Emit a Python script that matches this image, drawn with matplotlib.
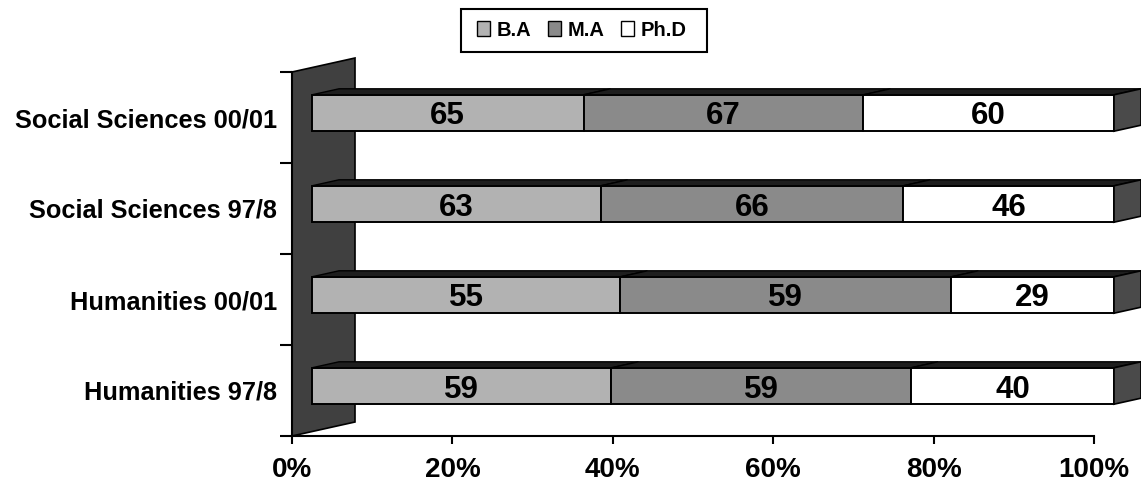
import matplotlib
matplotlib.use("Agg")
import matplotlib.pyplot as plt
from matplotlib.patches import Polygon, Patch, Rectangle
from matplotlib.transforms import ScaledTranslation
import numpy as np

plt.rcParams['font.family'] = ['Liberation Sans', 'DejaVu Sans']
plt.rcParams['font.weight'] = 'bold'

# bottom row first
categories = ["Humanities 97/8", "Humanities 00/01",
              "Social Sciences 97/8", "Social Sciences 00/01"]
degrees = ["B.A", "M.A", "Ph.D"]
ba = [59, 55, 63, 65]
ma = [59, 59, 66, 67]
phd = [40, 29, 46, 60]
xticks = [0, 20, 40, 60, 80, 100]

face_colors = ["#b2b2b2", "#8a8a8a", "#ffffff"]
top_color = "#1e1e1e"
side_color = "#4a4a4a"
wall_color = "#404040"

W, H = 1141, 482
fig = plt.figure(figsize=(W / 100, H / 100), dpi=100)
ax = fig.add_axes([292 / W, 46 / H, 802 / W, 364 / H])
ax.set_xlim(0, 100)
ax.set_ylim(-0.5, 3.5)

# pixels per data unit, used for the 3-D depth of bars and wall
ax_w = fig.get_figwidth() * fig.dpi * ax.get_position().width
ax_h = fig.get_figheight() * fig.dpi * ax.get_position().height
px_x = ax_w / 100.0
px_y = ax_h / 4.0

# bars sit a little behind the front plane
front = ax.transData + ScaledTranslation(20 / 100, 4.5 / 100, fig.dpi_scale_trans)
ddx, ddy = 27 / px_x, 6 / px_y      # bar depth
wdx, wdy = 63 / px_x, 14 / px_y     # wall depth

# back wall
wall = Polygon([(0, -0.5), (wdx, -0.5 + wdy), (wdx, 3.5 + wdy), (0, 3.5)],
               closed=True, facecolor=wall_color, edgecolor="black",
               lw=1.2, transform=ax.transData, clip_on=False, zorder=1)
ax.add_patch(wall)

data = np.array([ba, ma, phd], dtype=float)
pct = data / data.sum(axis=0) * 100
bar_h = 0.4
y = np.arange(len(categories))

left = np.zeros(len(categories))
for k in range(len(degrees)):
    ax.barh(y, pct[k], left=left, height=bar_h, color=face_colors[k],
            edgecolor="black", lw=1.4, transform=front, clip_on=False, zorder=3)
    for i in range(len(categories)):
        x0, x1 = left[i], left[i] + pct[k][i]
        yt = y[i] + bar_h / 2
        top = Polygon([(x0, yt), (x1, yt), (x1 + ddx, yt + ddy), (x0 + ddx, yt + ddy)],
                      closed=True, facecolor=top_color, edgecolor="black",
                      lw=1.0, transform=front, clip_on=False, zorder=3)
        ax.add_patch(top)
        ax.text((x0 + x1) / 2, y[i], f"{int(data[k][i])}", transform=front,
                ha="center", va="center_baseline", fontsize=22.5,
                fontweight="bold", color="black", zorder=5)
    left += pct[k]

# right-hand side faces
for i in range(len(categories)):
    yb, yt = y[i] - bar_h / 2, y[i] + bar_h / 2
    side = Polygon([(100, yb), (100 + ddx, yb + ddy), (100 + ddx, yt + ddy), (100, yt)],
                   closed=True, facecolor=side_color, edgecolor="black",
                   lw=1.2, transform=front, clip_on=False, zorder=3)
    ax.add_patch(side)

# axes, ticks and labels
for s in ["top", "right"]:
    ax.spines[s].set_visible(False)
for s in ["left", "bottom"]:
    ax.spines[s].set_linewidth(1.5)
    ax.spines[s].set_zorder(6)

ax.set_xticks(xticks)
ax.set_xticklabels([f"{t}%" for t in xticks], fontsize=20, fontweight="bold")
ax.tick_params(axis="x", direction="out", length=6, width=1.5, pad=9)

ax.set_yticks(np.arange(-0.5, 4.0, 1.0))
ax.set_yticklabels([])
ax.set_yticks(y, minor=True)
ax.set_yticklabels(categories, minor=True, fontsize=18.3, fontweight="bold")
ax.tick_params(axis="y", which="major", direction="out", length=9, width=1.5)
ax.tick_params(axis="y", which="minor", length=0, pad=10.8)

# legend with its frame
handles = [Patch(facecolor=face_colors[k], edgecolor="black", lw=1.0)
           for k in range(len(degrees))]
fig.legend(handles, degrees, loc="center", bbox_to_anchor=(582 / W, 1 - 30 / H),
           ncol=3, frameon=False, prop={"size": 14.5, "weight": "bold"},
           handlelength=0.65, handleheight=0.7, handletextpad=0.35,
           columnspacing=0.8, borderpad=0)
fig.patches.append(Rectangle((461 / W, 1 - 52 / H), 246 / W, 43 / H,
                             transform=fig.transFigure, fill=False,
                             edgecolor="black", lw=1.5))

fig.savefig("out.png", dpi=100)
